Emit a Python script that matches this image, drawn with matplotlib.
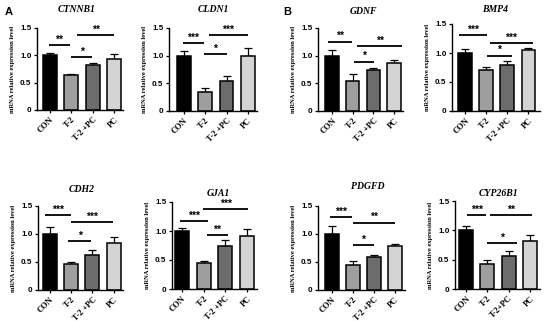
import matplotlib
matplotlib.use("Agg")
import matplotlib.pyplot as plt

W, H = 550, 321

groups = ["CON", "T-2", "T-2 +PC", "PC"]
groups_alt = ["CON", "T-2", "T-2+PC", "PC"]
genes = ["CTNNB1", "CLDN1", "GDNF", "BMP4", "CDH2", "GJA1", "PDGFD", "CYP26B1"]

CTNNB1_mean = [1.00, 0.64, 0.82, 0.93]
CTNNB1_err = [0.05, 0.02, 0.04, 0.10]
CLDN1_mean = [1.00, 0.34, 0.54, 0.99]
CLDN1_err = [0.08, 0.07, 0.10, 0.14]
GDNF_mean = [1.00, 0.55, 0.74, 0.87]
GDNF_err = [0.10, 0.11, 0.03, 0.06]
BMP4_mean = [1.00, 0.70, 0.80, 1.05]
BMP4_err = [0.07, 0.05, 0.06, 0.03]
CDH2_mean = [1.00, 0.47, 0.63, 0.84]
CDH2_err = [0.12, 0.03, 0.09, 0.10]
GJA1_mean = [1.00, 0.45, 0.75, 0.91]
GJA1_err = [0.05, 0.04, 0.09, 0.13]
PDGFD_mean = [1.00, 0.44, 0.59, 0.79]
PDGFD_err = [0.14, 0.08, 0.03, 0.03]
CYP26B1_mean = [1.00, 0.43, 0.57, 0.81]
CYP26B1_err = [0.07, 0.06, 0.08, 0.11]

# significance: (x start, x end, y, label)
CTNNB1_sig = [(-0.05, 0.93, 1.19, "**"), (1.25, 3.0, 1.37, "**"), (1.0, 1.95, 0.97, "*")]
CLDN1_sig = [(-0.05, 0.94, 1.23, "***"), (1.17, 3.0, 1.37, "***"), (0.94, 2.0, 1.03, "*")]
GDNF_sig = [(-0.2, 0.97, 1.25, "**"), (1.2, 3.4, 1.17, "**"), (1.05, 2.05, 0.89, "*")]
BMP4_sig = [(-0.3, 1.05, 1.31, "***"), (1.2, 3.2, 1.17, "***"), (1.05, 2.2, 0.95, "*")]
CDH2_sig = [(-0.25, 1.0, 1.34, "***"), (1.0, 2.95, 1.21, "***"), (0.85, 1.95, 0.875, "*")]
GJA1_sig = [(-0.1, 1.2, 1.17, "***"), (0.97, 3.05, 1.38, "***"), (1.15, 2.1, 0.93, "**")]
PDGFD_sig = [(-0.1, 0.95, 1.30, "***"), (1.0, 3.0, 1.20, "**"), (1.0, 2.0, 0.80, "*")]
CYP26B1_sig = [(0.05, 0.95, 1.26, "***"), (1.1, 3.1, 1.26, "**"), (1.0, 2.4, 0.78, "*")]

means = [CTNNB1_mean, CLDN1_mean, GDNF_mean, BMP4_mean, CDH2_mean, GJA1_mean, PDGFD_mean, CYP26B1_mean]
errs = [CTNNB1_err, CLDN1_err, GDNF_err, BMP4_err, CDH2_err, GJA1_err, PDGFD_err, CYP26B1_err]
sigs = [CTNNB1_sig, CLDN1_sig, GDNF_sig, BMP4_sig, CDH2_sig, GJA1_sig, PDGFD_sig, CYP26B1_sig]

# layout in pixels: axis x, right x, top (y=1.5), bottom (y=0), xlim
layout = [
    (37, 123, 28, 110, (-0.6, 3.4)),
    (169, 257, 28, 111, (-0.7, 3.43)),
    (318, 403, 28, 111, (-0.68, 3.43)),
    (452, 540, 24, 111, (-0.62, 3.55)),
    (38, 123, 206, 290, (-0.56, 3.44)),
    (172, 257, 202, 289, (-0.46, 3.46)),
    (318, 405, 206, 290, (-0.67, 3.48)),
    (455, 540, 201, 289, (-0.52, 3.47)),
]
title_pos = [(77, 10), (213, 10), (363, 11), (495, 10), (82, 190), (218, 193), (368, 187), (498, 193)]

colors = ["#000000", "#9e9e9e", "#6c6c6c", "#d4d4d4"]

fig = plt.figure(figsize=(W / 100, H / 100), dpi=100)
serif = "Liberation Serif"
sans = "Liberation Sans"

for k, gene in enumerate(genes):
    L, R, T, B, xl = layout[k]
    ax = fig.add_axes([L / W, 1 - B / H, (R - L) / W, (B - T) / H])
    x = list(range(len(groups)))
    ax.bar(x, means[k], width=0.65, color=colors, edgecolor="black", linewidth=1.1, zorder=2)
    ax.errorbar(x, means[k], yerr=[[0] * 4, errs[k]], fmt="none", ecolor="black",
                elinewidth=0.9, capsize=2.8, capthick=0.9, zorder=1)
    ax.set_xlim(*xl)
    ax.set_ylim(0, 1.5)
    ax.set_yticks([0, 0.5, 1.0, 1.5])
    ax.set_yticklabels(["0", "0.5", "1.0", "1.5"], fontfamily=sans, fontweight="bold", fontsize=5.8)
    ax.set_xticks(x)
    labs = groups_alt if gene == "CYP26B1" else groups
    ax.set_xticklabels(labs, rotation=45, ha="right", rotation_mode="anchor",
                       fontfamily=serif, fontweight="bold", fontsize=6)
    for s in ["top", "right"]:
        ax.spines[s].set_visible(False)
    for s in ["left", "bottom"]:
        ax.spines[s].set_linewidth(1.0)
    ax.tick_params(axis="both", length=2.5, width=0.9, pad=1.5)
    ax.set_ylabel("mRNA relative expression level", fontfamily=serif, fontweight="bold", fontsize=4.7)
    ax.yaxis.set_label_coords(-22 / (R - L), 0.5)
    for (x0, x1, y, lab) in sigs[k]:
        ax.plot([x0, x1], [y, y], color="black", lw=1.3, clip_on=False, solid_capstyle="butt")
        ax.text((x0 + x1) / 2, y + 0.01, lab, ha="center", va="bottom", fontsize=7.5,
                fontweight="bold", fontfamily=sans, clip_on=False)
    tx, ty = title_pos[k]
    fig.text(tx / W, 1 - ty / H, gene, ha="center", va="center", fontfamily=serif,
             fontstyle="italic", fontweight="bold", fontsize=7)

fig.text(5 / W, 1 - 12 / H, "A", ha="left", va="center", fontfamily=sans, fontweight="bold", fontsize=8)
fig.text(283 / W, 1 - 12 / H, "B", ha="left", va="center", fontfamily=sans, fontweight="bold", fontsize=8)

fig.savefig("out.png", dpi=100, facecolor="white")
